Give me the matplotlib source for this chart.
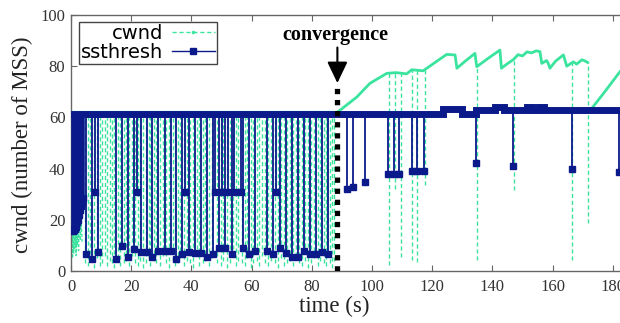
import numpy as np
import matplotlib
matplotlib.use('Agg')
import matplotlib.pyplot as plt
from matplotlib.lines import Line2D

# ---------------- data ----------------
# ssthresh band level (step function, value holds until next time)
ss_base_t = [0.0, 123.6, 130.0, 134.6, 141.0, 144.0, 151.5, 153.0, 155.5, 157.0, 200.0]
ss_base_v = [61.4, 63.3, 61.4, 62.8, 64.2, 62.8, 64.2, 62.8, 64.2, 62.8, 62.8]

# ssthresh drop events (time, value)
ss_ramp_t = [0.6, 0.9, 1.2, 1.5, 1.8, 2.1, 2.4, 2.7, 3.0, 3.3, 3.7, 4.1]
ss_ramp_v = [15.5, 16.0, 16.5, 17.0, 18.0, 19.0, 20.0, 22.0, 24.0, 25.5, 27.0, 28.5]

ss_ev_t = [5.0, 7.1, 8.0, 9.1, 14.8, 17.0, 18.8, 20.9, 21.8, 23.3,
           25.4, 26.9, 29.0, 31.1, 33.2, 34.9, 37.0, 37.9, 39.1, 41.2,
           43.3, 45.3, 47.3, 47.8, 49.3, 50.1, 51.2, 52.3, 53.4, 54.3,
           56.4, 57.1, 59.1, 61.2, 65.1, 67.2, 68.1, 69.3, 71.3, 73.3,
           75.3, 77.4, 79.4, 81.4, 83.4, 85.5,
           91.6, 93.6, 97.7, 105.2, 107.3, 109.1, 113.4, 115.1, 117.4,
           134.6, 146.7, 166.3, 182.2]
ss_ev_v = [6.5, 4.5, 30.7, 7.5, 4.5, 9.8, 5.5, 8.6, 30.7, 7.5,
           7.5, 5.5, 7.8, 7.8, 7.8, 4.5, 6.5, 30.7, 7.5, 7.0,
           7.0, 5.5, 6.5, 30.7, 9.0, 30.7, 9.0, 30.7, 6.5, 30.7,
           30.7, 9.0, 6.5, 7.8, 7.8, 6.5, 30.7, 9.0, 7.0, 5.5,
           5.5, 7.8, 6.5, 6.5, 7.5, 6.5,
           31.9, 33.0, 34.9, 37.9, 37.9, 37.9, 38.9, 38.9, 38.9,
           42.0, 41.0, 39.8, 38.5]

# cwnd envelope (upper curve)
cw_env_t = [0, 88.5, 95.0, 99.3, 104.9, 108.0, 111.5, 113.2, 117.0, 118.2,
            121.0, 124.8, 127.6, 128.2, 131.0, 134.2, 134.8, 138.5, 142.5, 143.0,
            145.0, 147.0, 148.5, 150.0, 151.5, 153.0, 154.5, 155.8, 156.4, 158.0,
            158.6, 159.1, 161.0, 163.6, 164.2, 164.7, 166.9, 168.0, 169.7, 170.5,
            171.6]
cw_env_v = [62, 62, 68.0, 73.3, 77.2, 77.5, 77.0, 78.6, 78.2, 79.2,
            81.5, 84.6, 84.4, 79.2, 82.0, 85.0, 79.8, 83.0, 86.3, 79.2,
            81.0, 82.6, 84.5, 84.0, 85.6, 85.2, 86.0, 85.7, 81.1, 82.2,
            81.0, 79.2, 82.0, 84.4, 82.0, 80.0, 81.7, 80.8, 82.5, 82.2,
            81.5]
cw_env2_t = [172.0, 177.0, 182.4, 186.0]
cw_env2_v = [62.0, 69.5, 77.9, 82.8]

# cwnd slow-start blob at start
cw_start_t = [0.1, 0.3, 0.5, 0.7, 0.9, 1.1, 1.3, 1.5, 1.7, 1.9, 2.1, 2.3, 2.5, 2.8, 3.1, 3.4, 3.7]
cw_start_v = [8, 14, 5, 18, 7, 20, 9, 16, 6, 21, 10, 17, 8, 22, 12, 19, 11]

# cwnd loss drops before convergence (time, lowest value)
cw_drop_t = [4.6, 5.6, 6.3, 7.6, 8.5, 9.6, 10.4, 11.2, 12.0, 12.8,
             13.6, 14.3, 15.5, 16.2, 17.6, 18.2, 19.4, 20.3, 21.3, 22.4,
             23.0, 24.0, 24.8, 25.9, 26.4, 27.6, 28.3, 29.6, 30.4, 31.7,
             32.5, 33.8, 34.4, 35.6, 36.3, 37.5, 38.5, 39.7, 40.5, 41.8,
             42.6, 43.8, 44.6, 45.9, 46.7, 48.6, 49.7, 50.6, 51.7, 52.8,
             53.9, 54.8, 55.6, 56.8, 57.7, 58.5, 59.7, 60.4, 61.8, 62.6,
             63.4, 64.3, 65.6, 66.4, 67.7, 68.7, 69.8, 70.6, 71.8, 72.6,
             73.8, 74.6, 75.8, 76.6, 77.9, 78.7, 79.9, 80.7, 81.9, 82.7,
             83.9, 84.6, 85.1, 86.0, 86.6, 87.4]
cw_drop_v = [3, 2, 4, 1, 5, 2, 3, 6, 2, 4,
             3, 1, 5, 2, 3, 4, 2, 6, 3, 2,
             4, 1, 3, 5, 2, 4, 3, 2, 6, 3,
             1, 4, 2, 3, 5, 2, 4, 3, 1, 6,
             2, 3, 4, 2, 5, 3, 2, 4, 1, 3,
             6, 2, 4, 3, 2, 5, 1, 3, 4, 2,
             6, 3, 2, 4, 3, 1, 5, 2, 3, 4,
             2, 6, 3, 2, 4, 1, 3, 5, 2, 4,
             3, 2, 6, 3, 1, 4]
# cwnd loss drops after convergence
cw_drop2_t = [105.5, 107.6, 109.6, 113.4, 115.0, 117.5, 134.8, 147.2, 166.6, 171.8]
cw_drop2_v = [2.3, 32.0, 5.6, 4.3, 3.4, 33.6, 4.3, 31.6, 4.3, 18.7]

conv_t = 88.5
x_ticks = [0, 20, 40, 60, 80, 100, 120, 140, 160, 180, 200]
y_ticks = [0, 20, 40, 60, 80, 100]

# ---------------- style ----------------
CW = '#3ae49e'
SS = '#0b1a8a'
plt.rcParams['font.family'] = ['Liberation Serif', 'DejaVu Serif']

W, H = 620, 323
fig = plt.figure(figsize=(W / 100, H / 100), dpi=100)
L, T, B = 71, 15, 271
ax_w = 200 * 3.01
ax = fig.add_axes([L / W, (H - B) / H, ax_w / W, (B - T) / H])
ax.set_xlim(0, 200)
ax.set_ylim(0, 100)

# cwnd
ax.plot(cw_start_t, cw_start_v, color=CW, lw=1.0, ls=(0, (2, 1.5)), zorder=2)
ax.vlines(cw_drop_t, cw_drop_v, 62, colors=CW, lw=1.0, linestyles=(0, (3, 2)), zorder=2)
top2 = np.interp(cw_drop2_t, cw_env_t, cw_env_v)
ax.vlines(cw_drop2_t, cw_drop2_v, top2, colors=CW, lw=1.0, linestyles=(0, (3, 2)), zorder=2)
ax.plot(cw_env_t, cw_env_v, color=CW, lw=2.0, zorder=3)
ax.plot(cw_env2_t, cw_env2_v, color=CW, lw=2.0, zorder=3)

# ssthresh
def base_at(t):
    idx = np.searchsorted(ss_base_t, t, side='right') - 1
    return np.asarray(ss_base_v)[idx]

ax.vlines(ss_ramp_t, ss_ramp_v, base_at(ss_ramp_t), colors=SS, lw=2.6, zorder=4)
ax.vlines(ss_ev_t, ss_ev_v, base_at(ss_ev_t), colors=SS, lw=1.3, zorder=4)
ax.plot(ss_base_t, ss_base_v, drawstyle='steps-post', color=SS, lw=5.0,
        solid_joinstyle='miter', zorder=5)
ax.plot(ss_ramp_t, ss_ramp_v, ls='none', marker='s', ms=4.4, color=SS, zorder=6)
ax.plot(ss_ev_t, ss_ev_v, ls='none', marker='s', ms=4.4, color=SS, zorder=6)

# convergence marker
ax.plot([conv_t, conv_t], [0, 72], color='black', lw=3.8, ls=(0, (1, 1.1)),
        dash_capstyle='butt', zorder=8)
ax.annotate('', xy=(conv_t, 73.4), xytext=(conv_t, 87.3),
            arrowprops=dict(arrowstyle='-|>,head_length=1.3,head_width=0.62',
                            mutation_scale=10, lw=1.5, color='black',
                            shrinkA=0, shrinkB=0), zorder=8)
ax.text(87.7, 92.0, 'convergence', ha='center', va='center', fontsize=14.5,
        fontweight='bold', color='black', zorder=8)

# axes styling
ax.set_xticks(x_ticks)
ax.set_yticks(y_ticks)
ax.tick_params(direction='in', length=4, width=0.8, color='#666666',
               labelcolor='#333333', labelsize=12, top=True, right=False)
ax.tick_params(axis='x', pad=6)
ax.tick_params(axis='y', pad=4)
for s in ax.spines.values():
    s.set_color('#666666')
    s.set_linewidth(1.0)

fig.text(22 / W, 1 - 145 / H, 'cwnd (number of MSS)', rotation=90,
         ha='center', va='center', fontsize=16.5, color='#222222')
fig.text(334 / W, 1 - 306 / H, 'time (s)', ha='center', va='center',
         fontsize=16.5, color='#222222')

# legend
h_cw = Line2D([], [], color=CW, lw=1.0, ls=(0, (3, 2)), marker='.', ms=3)
h_ss = Line2D([], [], color=SS, lw=1.0, marker='s', ms=4)
leg = ax.legend([h_cw, h_ss], ['cwnd', 'ssthresh'], loc='upper left',
                bbox_to_anchor=(79 / W, 1 - 22 / H), bbox_transform=fig.transFigure,
                borderaxespad=0, markerfirst=False, fancybox=False, framealpha=1,
                edgecolor='#444444', prop={'family': 'DejaVu Sans', 'size': 14},
                handlelength=2.2, handletextpad=0.45, borderpad=0.1,
                labelspacing=0.0)
leg.get_frame().set_linewidth(1.0)
leg.set_zorder(10)

fig.savefig('out.png', dpi=100)
